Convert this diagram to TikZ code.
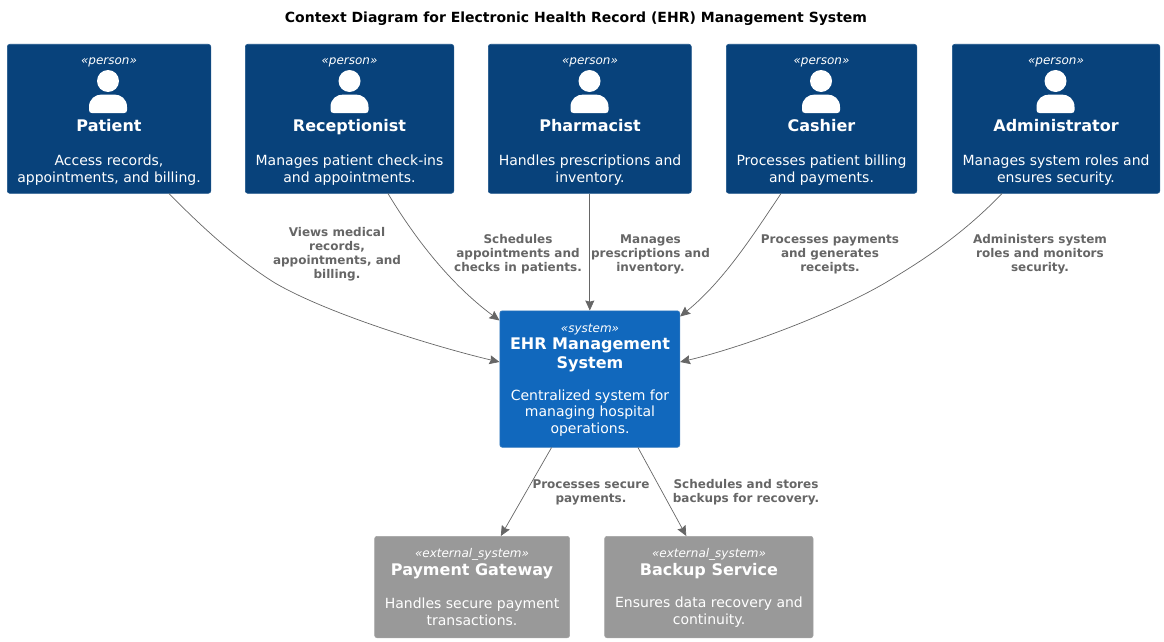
\documentclass[tikz,border=0pt]{standalone}
\usepackage{fontspec}
\setmainfont{DejaVu Sans}
\usetikzlibrary{arrows.meta}
\definecolor{personc}{HTML}{08427B}
\definecolor{personb}{HTML}{1A5288}
\definecolor{sysc}{HTML}{1168BD}
\definecolor{sysb}{HTML}{3C7FC0}
\definecolor{extc}{HTML}{999999}
\definecolor{extb}{HTML}{A4A4A4}
\definecolor{linec}{HTML}{666666}
\tikzset{
  boxbase/.style={draw,line width=0.6pt,rounded corners=2.5pt,minimum height=#1,inner sep=0pt,anchor=north west},
  personbox/.style={boxbase=149pt,fill=personc,draw=personb},
  sysbox/.style={boxbase=136.5pt,fill=sysc,draw=sysb},
  extbox/.style={boxbase=101.5pt,fill=extc,draw=extb},
  txtbase/.style={text=white,inner sep=0pt,align=center,anchor=center},
  stereotxt/.style={txtbase,anchor=base,font=\fontsize{12}{14}\selectfont\itshape},
  nametxt/.style={txtbase,font=\fontsize{16}{19}\selectfont\bfseries},
  desctxt/.style={txtbase,font=\fontsize{14}{16.6}\selectfont},
  reltxt/.style={text=linec,inner sep=0pt,align=center,anchor=center,font=\fontsize{12}{14}\selectfont\bfseries},
  conn/.style={draw=linec,line width=0.7pt,-{Stealth[length=10pt,width=9pt,inset=1.2pt]}},
  iconfill/.style={fill=white,draw=none}
}
\newcommand{\personicon}[1]{%
  \fill[iconfill] (#1,81) circle[radius=11pt];
  \fill[iconfill] (#1-19,107) .. controls (#1-19,99) and (#1-13,94.5) .. (#1-6,94.5)
     -- (#1+6,94.5) .. controls (#1+13,94.5) and (#1+19,99) .. (#1+19,107)
     -- (#1+19,110) .. controls (#1+19,112) and (#1+18,113) .. (#1+16,113) -- (#1-16,113)
     .. controls (#1-18,113) and (#1-19,112) .. (#1-19,110) -- cycle;
}
\begin{document}
\begin{tikzpicture}[x=1pt,y=-1pt]
\useasboundingbox (0,0) rectangle (1164,642);
\node[anchor=center,inner sep=0pt,font=\fontsize{14}{16}\selectfont\bfseries] (title) at (576,19) {Context Diagram for Electronic Health Record (EHR) Management System};

% boxes
\node[personbox,minimum width=203.5pt] (patient) at (7,44) {};
\node[personbox,minimum width=208.5pt] (recept) at (245,44) {};
\node[personbox,minimum width=203pt] (pharm) at (488,44) {};
\node[personbox,minimum width=190.5pt] (cashier) at (726,44) {};
\node[personbox,minimum width=207.5pt] (admin) at (952,44) {};
\node[sysbox,minimum width=180pt] (ehr) at (499.5,310.5) {};
\node[extbox,minimum width=195pt] (payment) at (374.3,536) {};
\node[extbox,minimum width=208.5pt] (backup) at (604.3,536) {};

% person texts
\node[stereotxt] (s1) at (109,65) {«person»};
\personicon{108}
\node[nametxt,anchor=base] (n1) at (109,131) {Patient};
\node[desctxt] (d1) at (109,170) {Access records,\\appointments, and billing.};

\node[stereotxt] (s2) at (349.5,65) {«person»};
\personicon{349.5}
\node[nametxt,anchor=base] (n2) at (349.5,131) {Receptionist};
\node[desctxt] (d2) at (349.5,170) {Manages patient check-ins\\and appointments.};

\node[stereotxt] (s3) at (590,65) {«person»};
\personicon{589.5}
\node[nametxt,anchor=base] (n3) at (590,131) {Pharmacist};
\node[desctxt] (d3) at (590,170) {Handles prescriptions and\\inventory.};

\node[stereotxt] (s4) at (821.5,65) {«person»};
\personicon{821}
\node[nametxt,anchor=base] (n4) at (821.5,131) {Cashier};
\node[desctxt] (d4) at (821.5,170) {Processes patient billing\\and payments.};

\node[stereotxt] (s5) at (1056,65) {«person»};
\personicon{1055.5}
\node[nametxt,anchor=base] (n5) at (1056,131) {Administrator};
\node[desctxt] (d5) at (1056,170) {Manages system roles and\\ensures security.};

% system
\node[stereotxt] (s6) at (590,332) {«system»};
\node[nametxt] (n6) at (590,355) {EHR Management\\System};
\node[desctxt] (d6) at (590,413) {Centralized system for\\managing hospital\\operations.};

\node[stereotxt] (s7) at (472,557) {«external\_system»};
\node[nametxt,anchor=base] (n7) at (472,575) {Payment Gateway};
\node[desctxt] (d7) at (472,612) {Handles secure payment\\transactions.};

\node[stereotxt] (s8) at (709,557) {«external\_system»};
\node[nametxt,anchor=base] (n8) at (709,575) {Backup Service};
\node[desctxt] (d8) at (709,612) {Ensures data recovery and\\continuity.};

% connectors
\draw[conn] ([xshift=162pt]patient.south west) .. controls (200,225) and (235,258) .. (275,283)
   .. controls (330,315) and (440,348) .. ([yshift=-51.5pt]ehr.north west);
\draw[conn] ([xshift=143pt]recept.south west) .. controls (410,230) and (445,280) .. ([yshift=-10pt]ehr.north west);
\draw[conn] (pharm.south) -- (ehr.north);
\draw[conn] ([xshift=55pt]cashier.south west) .. controls (755,232) and (725,280) .. ([yshift=-6pt]ehr.north east);
\draw[conn] ([xshift=50pt]admin.south west) .. controls (960,237) and (920,262) .. (885,283)
   .. controls (830,315) and (740,348) .. ([yshift=-51.5pt]ehr.north east);
\draw[conn] ([xshift=52pt]ehr.south west) -- ([xshift=126.5pt]payment.north west);
\draw[conn] ([xshift=138.5pt]ehr.south west) -- ([xshift=82pt]backup.north west);

% labels
\node[reltxt] (l1) at (337,254) {Views medical\\records,\\appointments, and\\billing.};
\node[reltxt] (l2) at (518,254) {Schedules\\appointments and\\checks in patients.};
\node[reltxt] (l3) at (650.5,254) {Manages\\prescriptions and\\inventory.};
\node[reltxt] (l4) at (830,254) {Processes payments\\and generates\\receipts.};
\node[reltxt] (l5) at (1040,254) {Administers system\\roles and monitors\\security.};
\node[reltxt] (l6) at (591,492.5) {Processes secure\\payments.};
\node[reltxt] (l7) at (746,492.5) {Schedules and stores\\backups for recovery.};
\end{tikzpicture}
\end{document}
